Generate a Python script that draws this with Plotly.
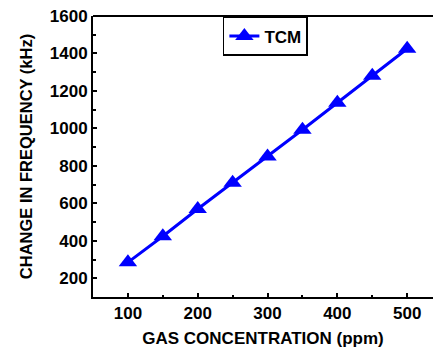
import plotly.graph_objects as go

concentration = [100, 150, 200, 250, 300, 350, 400, 450, 500]
freq_change = [285, 424, 570, 710, 850, 993, 1137, 1281, 1425]
series_name = "TCM"
x_ticks = [100, 200, 300, 400, 500]
y_ticks = [200, 400, 600, 800, 1000, 1200, 1400, 1600]

FONT = "Liberation Sans, Arial, sans-serif"

fig = go.Figure()
fig.add_trace(go.Scatter(
    x=concentration, y=freq_change, mode="lines+markers", name=series_name,
    line=dict(color="#0000ff", width=3),
    marker=dict(symbol="triangle-up", size=16, color="#0000ff"),
))

axis_common = dict(
    showgrid=False, zeroline=False, showline=True, linecolor="black", linewidth=2,
    ticks="inside", ticklen=4, tickwidth=1.5, tickcolor="black", automargin=False,
    tickfont=dict(family=FONT, size=17, color="black", weight="bold"),
)

fig.update_layout(
    width=433, height=353,
    margin=dict(l=93, r=0, t=16, b=56),
    paper_bgcolor="white", plot_bgcolor="white",
    showlegend=True,
    legend=dict(x=0.382, y=0.997, xanchor="left", yanchor="top",
                bordercolor="black", borderwidth=1.5, bgcolor="white",
                font=dict(family=FONT, size=17, color="black", weight="bold"),
                itemwidth=30, tracegroupgap=0),
    xaxis=dict(range=[50, 537], tickvals=x_ticks,
               minor=dict(ticks="inside", ticklen=2.5, dtick=50, tick0=50, tickcolor="black"),
               title=dict(text="GAS CONCENTRATION (ppm)", standoff=10,
                          font=dict(family=FONT, size=17, color="black", weight="bold")),
               **axis_common),
    yaxis=dict(range=[100, 1600], tickvals=y_ticks,
               minor=dict(ticks="inside", ticklen=2.5, dtick=100, tick0=100, tickcolor="black"),
               title=dict(text="CHANGE IN FREQUENCY (kHz)", standoff=13,
                          font=dict(family=FONT, size=16.5, color="black", weight="bold")),
               **axis_common),
)
fig.add_shape(type="line", xref="paper", yref="paper", x0=0, x1=1, y0=1, y1=1,
              line=dict(color="black", width=2))

fig.write_html("out.html", config={"displayModeBar": False},
               post_script="document.body.style.margin='0px';")
